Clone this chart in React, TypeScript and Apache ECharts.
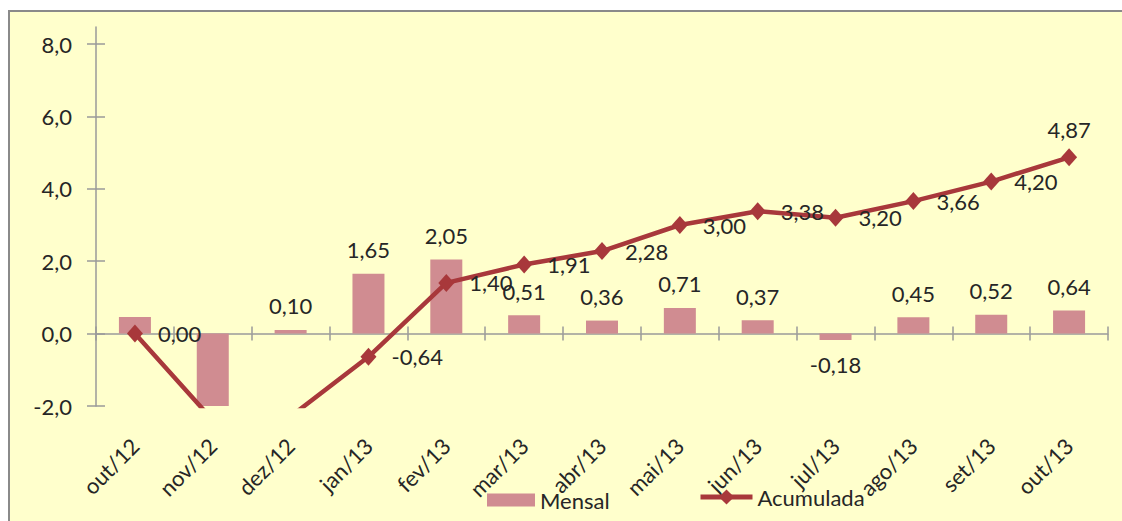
import React, { useEffect, useRef } from "react";
import * as echarts from "echarts";

const categories = ["out/12", "nov/12", "dez/12", "jan/13", "fev/13", "mar/13", "abr/13", "mai/13", "jun/13", "jul/13", "ago/13", "set/13", "out/13"];
const mensal = [0.46, -2.39, 0.10, 1.65, 2.05, 0.51, 0.36, 0.71, 0.37, -0.18, 0.45, 0.52, 0.64];
const acumulada = [0.00, -2.39, -2.29, -0.64, 1.40, 1.91, 2.28, 3.00, 3.38, 3.20, 3.66, 4.20, 4.87];
const yTicks = [-2, 0, 2, 4, 6, 8];
const hiddenBarLabels = [0, 1];
const hiddenLineLabels = [1, 2];

const FONT = "Lato, 'Open Sans', sans-serif";
const FS = 22;
const TEXT = "#262626";
const AXIS = "#9a9a9a";
const BAR = "#D08C91";
const LINE = "#A8383B";

const fmt2 = (v: number) => v.toFixed(2).replace(".", ",");

export default function App() {
  const ref = useRef<HTMLDivElement>(null);
  useEffect(() => {
    if (!ref.current) return;
    const chart = echarts.init(ref.current, undefined, { renderer: "svg" });
    const barData = mensal.map((v, i) => ({
      value: v,
      label: {
        show: !hiddenBarLabels.includes(i),
        position: (v < 0 ? "bottom" : "top") as any,
      },
    }));
    const lineData = acumulada.map((v, i) => {
      const last = i === acumulada.length - 1;
      return {
        value: v,
        label: hiddenLineLabels.includes(i)
          ? { show: false }
          : last
          ? { show: true, position: "top" as const, distance: 8 }
          : { show: true },
      };
    });
    const yMin = -2;
    const yMax = 8.47;
    chart.setOption({
      animation: false,
      backgroundColor: "#ffffff",
      textStyle: { fontFamily: FONT },
      graphic: [
        {
          type: "rect",
          shape: { x: 9, y: 11, width: 1200, height: 600 },
          style: { fill: "#FFFFCC", stroke: "#8a8a8a", lineWidth: 2 },
          z: -10,
          silent: true,
        },
      ],
      grid: { left: 96, right: 14, top: 27, bottom: 115, containLabel: false },
      legend: [
        {
          left: 482,
          top: 484,
          itemWidth: 48,
          itemHeight: 13,
          textStyle: { fontFamily: FONT, fontSize: FS, color: TEXT },
          data: [{ name: "Mensal", icon: "rect" }],
        },
        {
          left: 693,
          top: 481,
          itemWidth: 52,
          itemHeight: 19,
          textStyle: { fontFamily: FONT, fontSize: FS, color: TEXT },
          data: [{ name: "Acumulada", lineStyle: { width: 5 } }],
        },
      ],
      xAxis: [
        {
          type: "category",
          data: categories,
          position: "bottom",
          axisLine: { show: true, onZero: true, lineStyle: { color: AXIS, width: 1.5 } },
          axisTick: { show: true, length: 7, lineStyle: { color: AXIS, width: 1.5 } },
          axisLabel: { show: false },
          splitLine: { show: false },
        },
        {
          type: "category",
          data: categories,
          position: "bottom",
          axisLine: { show: false, onZero: false },
          axisTick: { show: false },
          axisLabel: {
            show: true,
            rotate: 45,
            margin: 36,
            fontFamily: FONT,
            fontSize: FS,
            color: TEXT,
          },
          splitLine: { show: false },
        },
        {
          type: "category",
          data: categories,
          position: "bottom",
          axisLine: { show: false, onZero: true },
          axisTick: { show: true, inside: true, length: 7, lineStyle: { color: AXIS, width: 1.5 } },
          axisLabel: { show: false },
          splitLine: { show: false },
        },
      ],
      yAxis: [
        {
          type: "value",
          min: yMin,
          max: yMax,
          position: "left",
          axisLine: { show: true, lineStyle: { color: AXIS, width: 1.5 } },
          axisTick: { show: true, length: 9, customValues: yTicks, lineStyle: { color: AXIS, width: 1.5 } },
          axisLabel: {
            show: true,
            customValues: yTicks,
            margin: 24,
            fontFamily: FONT,
            fontSize: FS,
            color: TEXT,
            formatter: (v: number) => v.toFixed(1).replace(".", ","),
          },
          splitLine: { show: false },
        },
        {
          type: "value",
          min: yMin,
          max: yMax,
          position: "left",
          axisLine: { show: false },
          axisTick: { show: true, inside: true, length: 9, customValues: yTicks, lineStyle: { color: AXIS, width: 1.5 } },
          axisLabel: { show: false, customValues: yTicks },
          splitLine: { show: false },
        },
      ],
      series: [
        {
          name: "Mensal",
          type: "bar",
          xAxisIndex: 0,
          yAxisIndex: 0,
          barWidth: 32,
          data: barData,
          itemStyle: { color: BAR },
          label: {
            distance: 13,
            fontFamily: FONT,
            fontSize: FS,
            color: TEXT,
            formatter: (p: any) => fmt2(p.value),
          },
        },
        {
          name: "Acumulada",
          type: "line",
          xAxisIndex: 0,
          yAxisIndex: 0,
          data: lineData,
          symbol: "diamond",
          symbolSize: [16, 18],
          lineStyle: { color: LINE, width: 4.5 },
          itemStyle: { color: LINE },
          label: {
            position: "right",
            distance: 15,
            fontFamily: FONT,
            fontSize: FS,
            color: TEXT,
            formatter: (p: any) => fmt2(p.value),
          },
          z: 3,
        },
      ],
    });
    return () => chart.dispose();
  }, []);
  return (
    <div
      ref={ref}
      style={{ position: "fixed", left: 0, top: 0, width: 1122, height: 521 }}
    />
  );
}
